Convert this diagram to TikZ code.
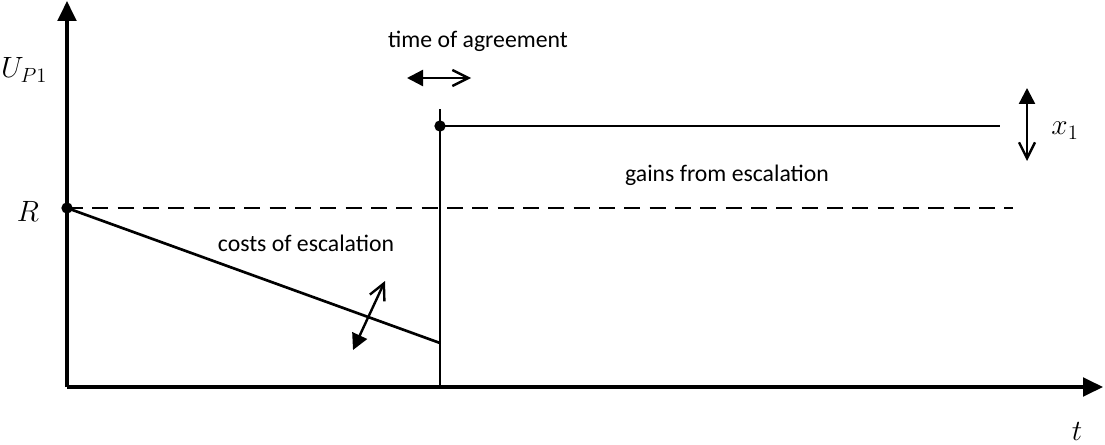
\RequirePackage{fix-cm}
\documentclass[tikz,border=0pt]{standalone}
\usepackage{fontspec}
\setmainfont{Carlito}
\usetikzlibrary{arrows.meta}

\begin{document}
\begin{tikzpicture}[x=0.75pt,y=-0.75pt,
    axis/.style={line width=2.4pt,-{Triangle[length=15pt,width=14pt]}},
    graphline/.style={line width=2pt},
    sway/.style={line width=1.8pt,{Triangle[length=12pt,width=12pt]}-{Straight Barb[length=12pt,width=12pt]}},
    knot/.style={circle,fill,inner sep=0pt,minimum size=8.5pt},
    lbl/.style={font=\fontsize{17.8}{21}\selectfont,inner sep=0pt,anchor=base},
    mlbl/.style={font=\fontsize{22}{26}\selectfont,inner sep=0pt,anchor=base}]
    \useasboundingbox (0,0) rectangle (1105,445);
        \coordinate (O) at (67,387); \coordinate (ytip) at (67,1); \coordinate (xtip) at (1103,387);
        \coordinate (agrbot) at (440,387); \coordinate (agrtop) at (440,109); \coordinate (costend) at (440,343);
        \coordinate (dashend) at (1013,208); \coordinate (gainend) at (1000,126);
        \coordinate (taL) at (407,78); \coordinate (taR) at (471,78);
        \coordinate (xup) at (1027,88); \coordinate (xdn) at (1027,161);
        \coordinate (cdn) at (353,350); \coordinate (cup) at (385,281);

        \draw[graphline, dashed, dash pattern=on 12pt off 7pt] (67,208) -- (dashend);
        \draw[axis] (O) -- (ytip); \draw[axis] (O) -- (xtip);
        \node[knot] (R) at (67,208) {}; \node[knot] (G) at (440,126) {};
        \draw[graphline] (R.center) -- (costend); \draw[graphline] (agrbot) -- (agrtop); \draw[graphline] (G.center) -- (gainend);
        \draw[sway] (taL) -- (taR); \draw[sway] (xup) -- (xdn); \draw[sway] (cdn) -- (cup);

        \node[mlbl] (uaxis) at (24,78) {$U_{P1}$};
        \node[mlbl] (rlbl) at (28,222) {$R$};
        \node[mlbl] (xlbl) at (1065,135) {$x_1$};
        \node[mlbl] (tlbl) at (1077,440) {$t$};
        \node[lbl] (agree) at (478,48) {time of agreement};
        \node[lbl] (gains) at (727,182) {gains from escalation};
        \node[lbl] (costs) at (306,251) {costs of escalation};
\end{tikzpicture}
\end{document}
